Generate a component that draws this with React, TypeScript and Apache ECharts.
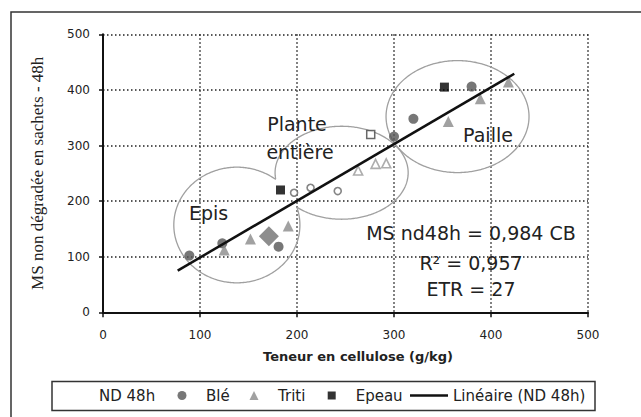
import React, { useEffect, useRef } from "react";
import * as echarts from "echarts";

// Data
const bleFilled: number[][] = [[89, 102], [123, 124], [181, 118], [300, 316], [320, 348], [380, 406]];
const tritiFilled: number[][] = [[125, 112], [152, 132], [191, 155], [356, 343], [389, 384], [418, 414]];
const epeauFilled: number[][] = [[183, 220], [352, 405]];
const bleHollow: number[][] = [[197, 215], [214, 224], [242, 218]];
const tritiHollow: number[][] = [[263, 255], [281, 267], [292, 268]];
const epeauHollow: number[][] = [[276, 320]];
const ndDiamond: number[][] = [[171, 137]];
const trendLine: number[][] = [[77, 75], [424, 429]];
// groups (Epis, Plante entière, Paille): [cx, cy, rx, ry] in data units
const groupEllipses: number[][] = [[138, 157, 65, 104], [246, 251, 68.6, 83.6], [365.5, 352, 73.7, 100.7]];
const legendNames = ["ND 48h", "Blé", "Triti", "Epeau", "Linéaire (ND 48h)"];
const xTicks = { min: 0, max: 500, interval: 100 };
const yTicks = { min: 0, max: 500, interval: 100 };

const SANS = "'DejaVu Sans', 'Liberation Sans', sans-serif";

// icons drawn inside a full 38x9 box so that the legend layout is predictable
const BOX = "M0,0M38,9";
const legendIcons = [
  `path://${BOX}M14.5,0H23.5V9H14.5Z`,
  `path://${BOX}M19,0A4.5,4.5,0,1,1,19,9A4.5,4.5,0,1,1,19,0Z`,
  `path://${BOX}M19,0L23.5,9L14.5,9Z`,
  `path://${BOX}M15,0.5H23V8.5H15Z`,
  `path://${BOX}M0,3.2H38V5.8H0Z`,
];
const legendLefts = [56, 163, 235, 312.7, 410];

export default function App() {
  const ref = useRef<HTMLDivElement>(null);
  useEffect(() => {
    if (!ref.current) return;
    const chart = echarts.init(ref.current, null, { renderer: "svg" });
    const txt = (text: string, x: number, y: number, size = 19) => ({
      type: "text",
      x,
      y,
      z: 50,
      style: { text, fontSize: size, fontFamily: SANS, fill: "#222", align: "center", verticalAlign: "middle" },
    });
    const legends = legendNames.map((name, i) => ({
      left: legendLefts[i],
      top: 388,
      orient: "horizontal",
      itemWidth: 38,
      itemHeight: 9,
      symbolKeepAspect: true,
      padding: 0,
      textStyle: { fontFamily: SANS, fontSize: 15, color: "#222" },
      data: [
        i === 0
          ? { name, icon: legendIcons[i], itemStyle: { color: "rgba(0,0,0,0)", opacity: 0 } }
          : { name, icon: legendIcons[i] },
      ],
    }));
    chart.setOption({
      animation: false,
      backgroundColor: "#fff",
      grid: { left: 103, right: 53, top: 34.3, bottom: 104.7 },
      xAxis: {
        type: "value",
        ...xTicks,
        name: "Teneur en cellulose (g/kg)",
        nameLocation: "middle",
        nameGap: 38,
        nameTextStyle: { fontFamily: SANS, fontSize: 13, fontWeight: "bold", color: "#222", padding: [0, 0, 0, 25] },
        axisLine: { show: true, onZero: false, lineStyle: { color: "#111", width: 2 } },
        axisTick: { show: true, length: 5, lineStyle: { color: "#111", width: 1.5 } },
        axisLabel: { fontFamily: SANS, fontSize: 12, color: "#222", margin: 17 },
        splitLine: { show: true, lineStyle: { color: "#222", width: 1.5, type: [1.5, 2.5] } },
      },
      yAxis: {
        type: "value",
        ...yTicks,
        name: "MS non dégradée en sachets - 48h",
        nameLocation: "middle",
        nameGap: 57,
        nameTextStyle: { fontFamily: "'Liberation Serif', 'DejaVu Serif', serif", fontSize: 17, color: "#222" },
        axisLine: { show: true, lineStyle: { color: "#111", width: 2 } },
        axisTick: { show: true, length: 4, lineStyle: { color: "#111", width: 1.5 } },
        axisLabel: { fontFamily: SANS, fontSize: 12, color: "#222", margin: 13 },
        splitLine: { show: true, lineStyle: { color: "#222", width: 1.5, type: [1.5, 2.5] } },
      },
      legend: legends,
      graphic: [
        {
          type: "rect",
          shape: { x: 11, y: 12, width: 700, height: 500 },
          style: { fill: "none", stroke: "#333", lineWidth: 1.5 },
          z: 0,
          silent: true,
        },
        {
          type: "rect",
          shape: { x: 52, y: 381.5, width: 543, height: 29 },
          style: { fill: "none", stroke: "#333", lineWidth: 1.5 },
          z: 0,
          silent: true,
        },
        txt("Epis", 208.5, 213),
        txt("Plante", 297, 124),
        txt("entière", 300, 151.5),
        txt("Paille", 488, 135),
        txt("MS nd48h = 0,984 CB", 471, 233),
        txt("R² = 0,957", 471, 262.5),
        txt("ETR = 27", 471, 289),
      ],
      series: [
        {
          type: "custom",
          name: "groupes",
          data: groupEllipses,
          silent: true,
          z: 1,
          renderItem: (params: any, api: any) => {
            // pixel geometry of every group outline
            const geo = groupEllipses.map((e) => {
              const c = api.coord([e[0], e[1]]);
              const s = api.size([e[2], e[3]], [e[0], e[1]]);
              return { cx: c[0], cy: c[1], rx: s[0], ry: s[1] };
            });
            const me = geo[params.dataIndex];
            const N = 360;
            const pts: { p: number[]; vis: boolean }[] = [];
            for (let k = 0; k <= N; k++) {
              const t = (k / N) * Math.PI * 2;
              const x = me.cx + me.rx * Math.cos(t);
              const y = me.cy + me.ry * Math.sin(t);
              let inside = false;
              geo.forEach((g, j) => {
                if (j === params.dataIndex) return;
                const v = ((x - g.cx) / g.rx) ** 2 + ((y - g.cy) / g.ry) ** 2;
                if (v < 1) inside = true;
              });
              pts.push({ p: [x, y], vis: !inside });
            }
            // runs of visible points (outline of the union)
            const runs: number[][][] = [];
            let cur: number[][] = [];
            pts.forEach((q) => {
              if (q.vis) cur.push(q.p);
              else if (cur.length) {
                runs.push(cur);
                cur = [];
              }
            });
            if (cur.length) runs.push(cur);
            if (runs.length > 1 && pts[0].vis && pts[N].vis) {
              const last = runs.pop() as number[][];
              runs[0] = last.concat(runs[0]);
            }
            return {
              type: "group",
              children: runs.map((r) => ({
                type: "polyline",
                shape: { points: r },
                style: { fill: "none", stroke: "#a0a0a0", lineWidth: 1.3 },
              })),
            };
          },
        },
        {
          type: "scatter",
          name: "ND 48h",
          data: ndDiamond,
          symbol: "diamond",
          symbolSize: 20,
          itemStyle: { color: "#707070" },
          z: 3,
        },
        {
          type: "scatter",
          name: "Blé",
          data: bleFilled,
          symbol: "circle",
          symbolSize: 10,
          itemStyle: { color: "#555" },
          z: 3,
        },
        {
          type: "scatter",
          name: "Triti",
          data: tritiFilled,
          symbol: "triangle",
          symbolSize: 11,
          itemStyle: { color: "#8a8a8a" },
          z: 3,
        },
        {
          type: "scatter",
          name: "Epeau",
          data: epeauFilled,
          symbol: "rect",
          symbolSize: 9,
          itemStyle: { color: "#000" },
          z: 3,
        },
        {
          type: "scatter",
          name: "Blé plante entière",
          data: bleHollow,
          symbol: "circle",
          symbolSize: 7,
          itemStyle: { color: "#fff", borderColor: "#666", borderWidth: 1.6 },
          z: 3,
        },
        {
          type: "scatter",
          name: "Triti plante entière",
          data: tritiHollow,
          symbol: "triangle",
          symbolSize: 9,
          itemStyle: { color: "#fff", borderColor: "#999", borderWidth: 1.6 },
          z: 3,
        },
        {
          type: "scatter",
          name: "Epeau plante entière",
          data: epeauHollow,
          symbol: "rect",
          symbolSize: 8,
          itemStyle: { color: "#fff", borderColor: "#444", borderWidth: 1.5 },
          z: 3,
        },
        {
          type: "line",
          name: "Linéaire (ND 48h)",
          data: trendLine,
          symbol: "none",
          showSymbol: false,
          lineStyle: { color: "#111", width: 2.5 },
          itemStyle: { color: "#111" },
          z: 4,
        },
      ],
    });
    return () => chart.dispose();
  }, []);
  return (
    <div
      ref={ref}
      style={{ position: "fixed", left: 0, top: 0, width: 641, height: 417, background: "#fff" }}
    />
  );
}
